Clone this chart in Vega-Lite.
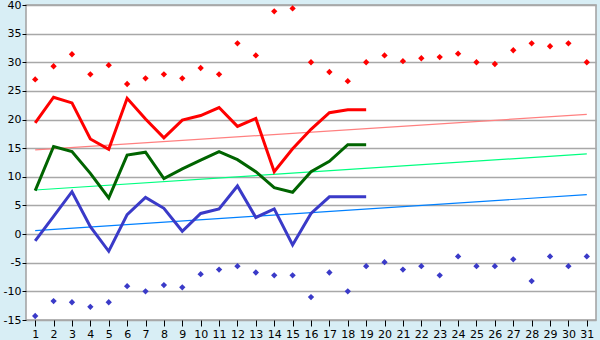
{
  "$schema": "https://vega.github.io/schema/vega-lite/v6.json",
  "width": 570,
  "height": 315,
  "autosize": {"type": "none"},
  "padding": {"left": 26, "top": 5, "right": 4, "bottom": 20},
  "background": "#d8eef5",
  "config": {
    "view": {"stroke": "#a0a0a0", "strokeWidth": 1.5, "fill": "white"},
    "axis": {"labelFont": "DejaVu Sans", "labelFontSize": 11, "labelColor": "#000000", "domain": false, "labelOverlap": false, "labelFlush": false, "labelBound": false},
    "axisY": {"labelOverlap": false, "labelFlush": false, "labelExpr": "'' + datum.value", "grid": true, "gridColor": "#a8a8a8", "gridWidth": 1.5, "tickColor": "#000000", "tickSize": 4, "labelPadding": 1, "tickCount": 12}
  },
  "datasets": {
    "days": [
      {"day": 1, "max": 19.4, "mean": 7.6, "min": -1.2, "recmax": 27.0, "recmin": -14.3},
      {"day": 2, "max": 23.9, "mean": 15.3, "min": 3.1, "recmax": 29.3, "recmin": -11.7},
      {"day": 3, "max": 22.9, "mean": 14.4, "min": 7.4, "recmax": 31.4, "recmin": -11.9},
      {"day": 4, "max": 16.6, "mean": 10.6, "min": 1.3, "recmax": 27.9, "recmin": -12.7},
      {"day": 5, "max": 14.8, "mean": 6.3, "min": -3.0, "recmax": 29.5, "recmin": -11.9},
      {"day": 6, "max": 23.7, "mean": 13.8, "min": 3.4, "recmax": 26.2, "recmin": -9.1},
      {"day": 7, "max": 20.1, "mean": 14.3, "min": 6.4, "recmax": 27.2, "recmin": -10.0},
      {"day": 8, "max": 16.8, "mean": 9.7, "min": 4.5, "recmax": 27.9, "recmin": -8.9},
      {"day": 9, "max": 19.9, "mean": 11.4, "min": 0.5, "recmax": 27.2, "recmin": -9.3},
      {"day": 10, "max": 20.7, "mean": 12.9, "min": 3.6, "recmax": 29.0, "recmin": -7.0},
      {"day": 11, "max": 22.1, "mean": 14.4, "min": 4.4, "recmax": 27.9, "recmin": -6.2},
      {"day": 12, "max": 18.8, "mean": 13.0, "min": 8.4, "recmax": 33.3, "recmin": -5.6},
      {"day": 13, "max": 20.2, "mean": 10.9, "min": 2.9, "recmax": 31.2, "recmin": -6.7},
      {"day": 14, "max": 10.9, "mean": 8.1, "min": 4.4, "recmax": 38.9, "recmin": -7.2},
      {"day": 15, "max": 14.9, "mean": 7.3, "min": -1.9, "recmax": 39.4, "recmin": -7.2},
      {"day": 16, "max": 18.3, "mean": 10.9, "min": 3.6, "recmax": 30.0, "recmin": -11.0},
      {"day": 17, "max": 21.2, "mean": 12.7, "min": 6.5, "recmax": 28.3, "recmin": -6.7},
      {"day": 18, "max": 21.7, "mean": 15.6, "min": 6.5, "recmax": 26.7, "recmin": -10.0},
      {"day": 19, "max": 21.7, "mean": 15.6, "min": 6.5, "recmax": 30.0, "recmin": -5.6},
      {"day": 20, "recmax": 31.2, "recmin": -4.9},
      {"day": 21, "recmax": 30.2, "recmin": -6.2},
      {"day": 22, "recmax": 30.7, "recmin": -5.6},
      {"day": 23, "recmax": 30.9, "recmin": -7.2},
      {"day": 24, "recmax": 31.5, "recmin": -3.9},
      {"day": 25, "recmax": 30.0, "recmin": -5.6},
      {"day": 26, "recmax": 29.7, "recmin": -5.6},
      {"day": 27, "recmax": 32.1, "recmin": -4.4},
      {"day": 28, "recmax": 33.3, "recmin": -8.2},
      {"day": 29, "recmax": 32.8, "recmin": -3.9},
      {"day": 30, "recmax": 33.3, "recmin": -5.6},
      {"day": 31, "recmax": 30.0, "recmin": -3.9}
    ],
    "trend": [
      {"day": 1, "series": "max", "value": 14.7},
      {"day": 31, "series": "max", "value": 20.9},
      {"day": 1, "series": "mean", "value": 7.7},
      {"day": 31, "series": "mean", "value": 14.0},
      {"day": 1, "series": "min", "value": 0.6},
      {"day": 31, "series": "min", "value": 6.9}
    ]
  },
  "encoding": {
    "x": {
      "field": "day", "type": "quantitative",
      "scale": {"domain": [0.5, 31.5], "nice": false, "zero": false},
      "axis": {"title": null, "values": [1,2,3,4,5,6,7,8,9,10,11,12,13,14,15,16,17,18,19,20,21,22,23,24,25,26,27,28,29,30,31], "format": "d", "grid": false, "tickColor": "#000000", "tickSize": 6, "labelPadding": 2}
    }
  },
  "layer": [
    {
      "data": {"name": "trend"},
      "mark": {"type": "line", "strokeWidth": 1.2},
      "encoding": {
        "y": {"field": "value", "type": "quantitative",
          "scale": {"domain": [-15, 40], "nice": false},
          "axis": {"title": null, "values": [-15,-10,-5,0,5,10,15,20,25,30,35,40]}},
        "color": {"field": "series", "type": "nominal", "legend": null,
          "scale": {"domain": ["max", "mean", "min"], "range": ["#ff8080", "#00ff80", "#0080ff"]}}
      }
    },
    {
      "data": {"name": "days"},
      "mark": {"type": "line", "color": "#ff0000", "strokeWidth": 3},
      "encoding": {"y": {"field": "max", "type": "quantitative", "title": null}}
    },
    {
      "data": {"name": "days"},
      "mark": {"type": "line", "color": "#006400", "strokeWidth": 3},
      "encoding": {"y": {"field": "mean", "type": "quantitative", "title": null}}
    },
    {
      "data": {"name": "days"},
      "mark": {"type": "line", "color": "#3a3ac8", "strokeWidth": 3},
      "encoding": {"y": {"field": "min", "type": "quantitative", "title": null}}
    },
    {
      "data": {"name": "days"},
      "mark": {"type": "point", "shape": "diamond", "filled": true, "color": "#ff0000", "size": 40, "opacity": 1},
      "encoding": {"y": {"field": "recmax", "type": "quantitative", "title": null}}
    },
    {
      "data": {"name": "days"},
      "mark": {"type": "point", "shape": "diamond", "filled": true, "color": "#3a3ac8", "size": 40, "opacity": 1},
      "encoding": {"y": {"field": "recmin", "type": "quantitative", "title": null}}
    }
  ]
}
